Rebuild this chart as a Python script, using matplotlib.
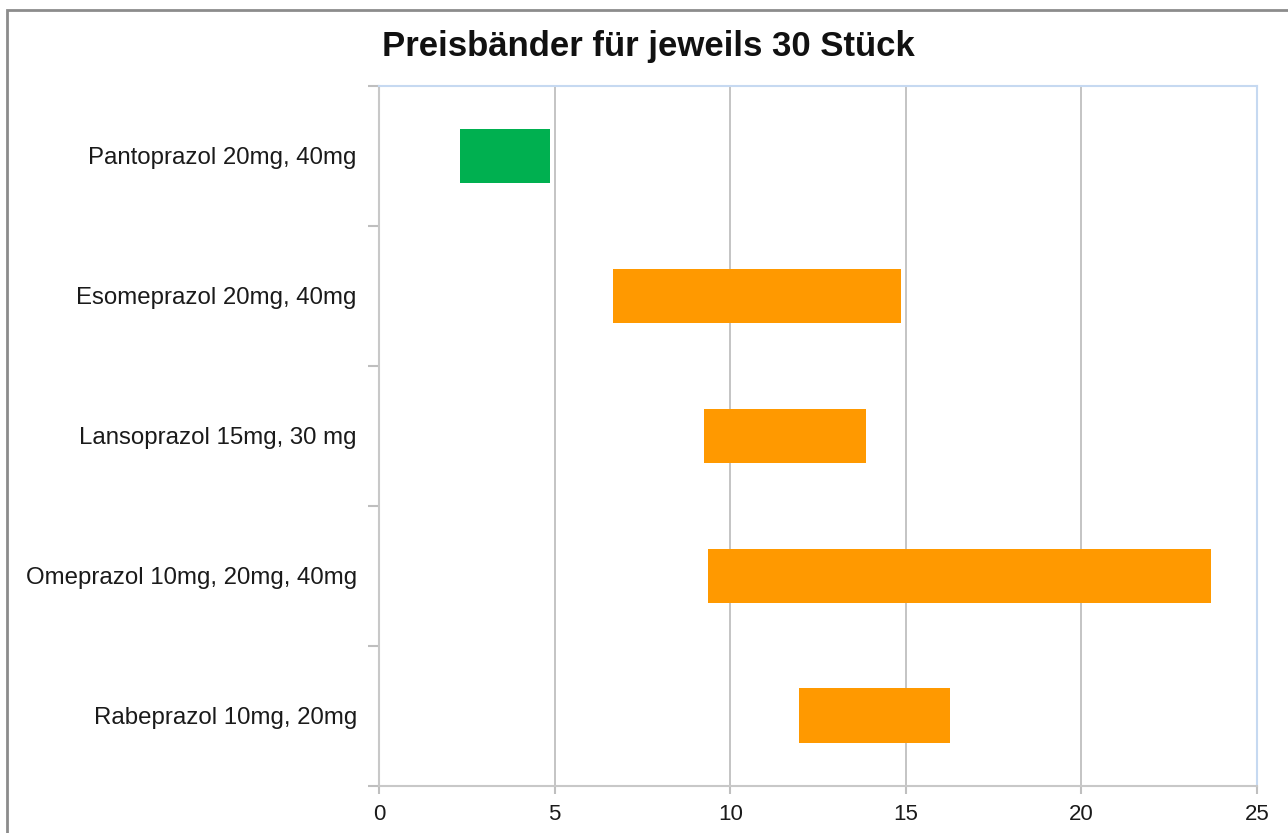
import matplotlib
matplotlib.use("Agg")
import matplotlib.pyplot as plt
from matplotlib.patches import Rectangle

categories = ["Pantoprazol 20mg, 40mg", "Esomeprazol 20mg, 40mg", "Lansoprazol 15mg, 30 mg",
              "Omeprazol 10mg, 20mg, 40mg", "Rabeprazol 10mg, 20mg"]
price_min = [2.3, 6.67, 9.26, 9.38, 11.97]
price_max = [4.86, 14.86, 13.87, 23.68, 16.27]
colors = ["#00B050", "#FF9900", "#FF9900", "#FF9900", "#FF9900"]
xticks = [0, 5, 10, 15, 20, 25]
title = "Preisbänder für jeweils 30 Stück"

plt.rcParams['font.family'] = ['Liberation Sans', 'DejaVu Sans']

fig = plt.figure(figsize=(12.88, 8.33), dpi=100)
ax = fig.add_axes([379/1288, 1 - 785.7/833, (1257-379)/1288, (785.7-86)/833])

ypos = [i + 0.5 for i in range(len(categories))]
widths = [b - a for a, b in zip(price_min, price_max)]
ax.barh(ypos, widths, left=price_min, height=0.39, color=colors, zorder=3)

ax.set_xlim(0, 25)
ax.set_ylim(len(categories), 0)
ax.set_xticks(xticks)
ax.set_xticklabels([str(t) for t in xticks], fontsize=16, color="#1a1a1a")
ax.set_yticks(ypos)
ax.set_yticklabels(categories, fontsize=17.3, color="#1a1a1a")
ax.set_yticks(range(len(categories) + 1), minor=True)
ax.tick_params(axis='y', which='major', length=0, pad=16)
ax.tick_params(axis='y', which='minor', length=8, color="#BFBFBF", width=1.5)
ax.tick_params(axis='x', which='major', length=6, color="#BFBFBF", width=1.5, pad=7)

ax.grid(axis='x', color="#BFBFBF", linewidth=1.3, zorder=0)
ax.set_axisbelow(True)
for s in ['left', 'bottom']:
    ax.spines[s].set_color("#C8C8C8")
    ax.spines[s].set_linewidth(1.5)
for s in ['top', 'right']:
    ax.spines[s].set_color("#C6D9F1")
    ax.spines[s].set_linewidth(1.5)

fig.text(382/1288, 1 - 56/833, title, fontsize=25, fontweight='bold', ha='left', va='baseline', color="#111111")

fig.patches.append(Rectangle((7/1288, -0.05), 1.0, 1.05 - 10/833, transform=fig.transFigure,
                             fill=False, edgecolor="#8C8C8C", linewidth=2))

fig.savefig("out.png", dpi=100)
